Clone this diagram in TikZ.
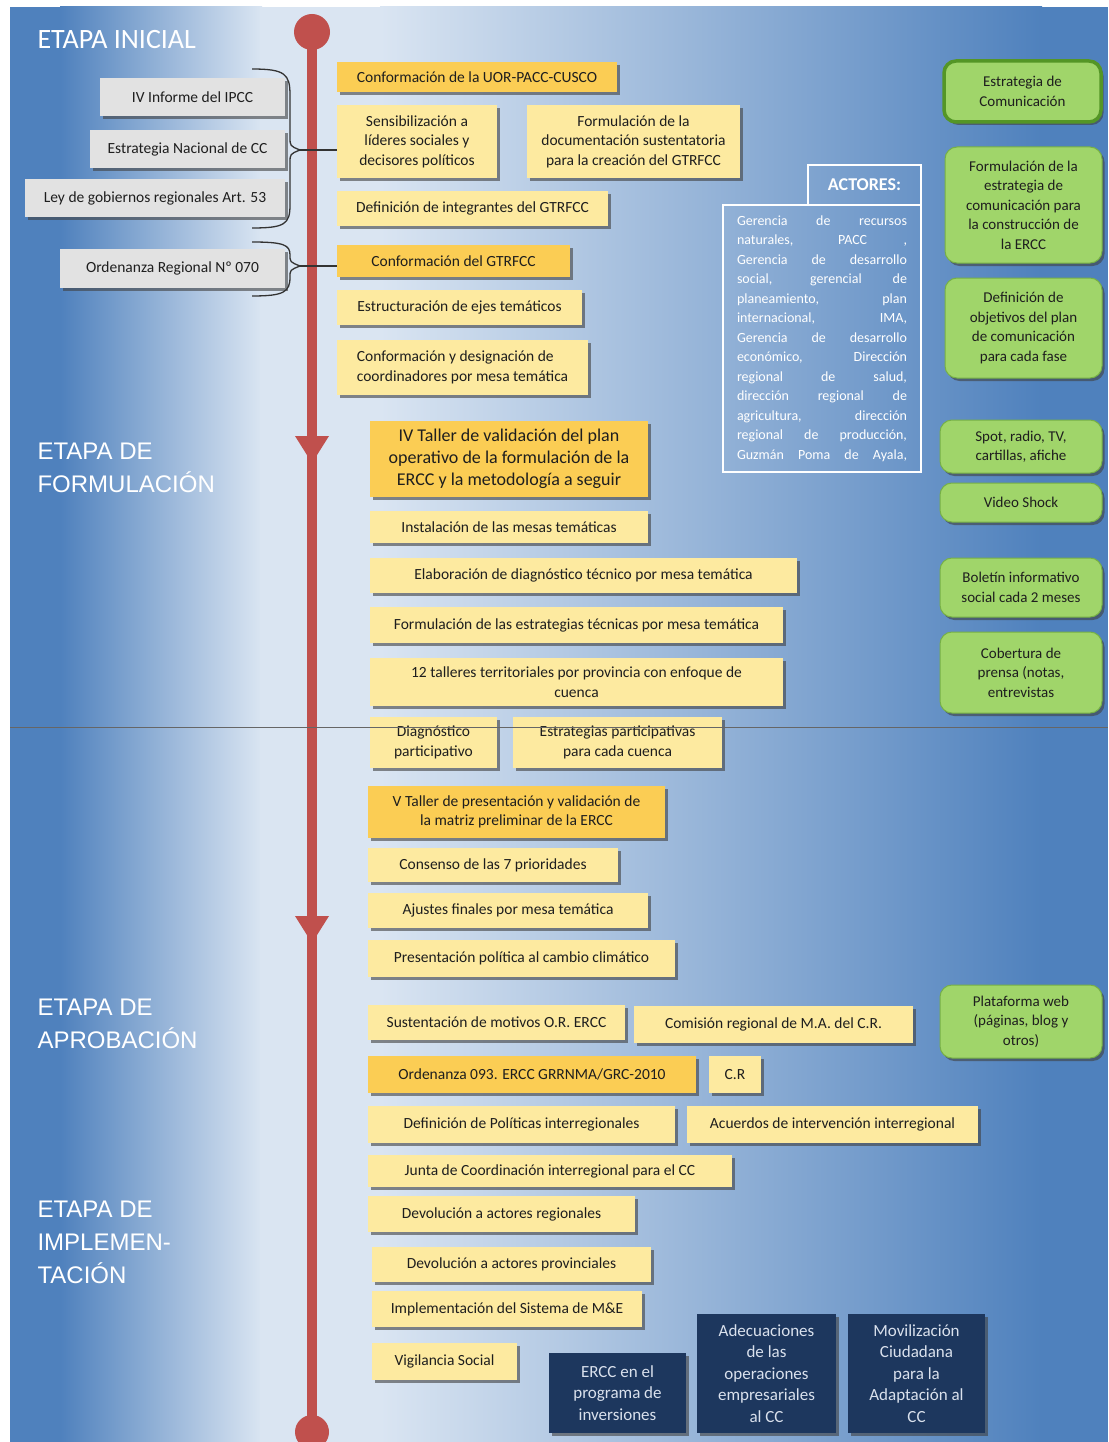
\documentclass[tikz,border=0pt]{standalone}
\usepackage{fontspec}
\setmainfont{Carlito}
\newfontfamily\arialfam{Liberation Sans}
\usetikzlibrary{shadows}

\definecolor{bgblue}{RGB}{79,129,189}
\definecolor{bglight}{RGB}{218,229,242}
\definecolor{tlred}{RGB}{192,80,77}
\definecolor{ylight}{RGB}{253,234,160}
\definecolor{ydark}{RGB}{251,205,84}
\definecolor{boxgrey}{RGB}{226,226,226}
\definecolor{grfill}{RGB}{160,213,106}
\definecolor{grline}{RGB}{118,176,70}
\definecolor{grdark}{RGB}{84,150,38}
\definecolor{navy}{RGB}{29,55,94}
\definecolor{navytxt}{RGB}{218,225,237}
\definecolor{txt}{RGB}{30,30,30}

\newcommand{\boxfont}{\fontsize{15.5}{19.5}\selectfont}
\newcommand{\tallerfont}{\fontsize{18}{22}\selectfont}
\newcommand{\greenfont}{\fontsize{15}{19.5}\selectfont}
\newcommand{\navyfont}{\fontsize{17}{21.5}\selectfont}
\newcommand{\actfont}{\fontsize{14}{19.5}\selectfont}
\newcommand{\stagefont}{\arialfam\fontsize{24}{33}\selectfont}
\newcommand{\inicialfont}{\fontsize{28}{33}\selectfont}
\newcommand{\actline}[1]{\makebox[170pt][s]{#1}}

\begin{document}
\begin{tikzpicture}[x=1pt,y=-1pt,
    tbox/.style={inner sep=2pt,align=center,text=txt,font=\boxfont,
      drop shadow={shadow xshift=2.5pt,shadow yshift=-3pt,opacity=.6,fill=black!75}},
    ybox/.style={tbox,fill=ylight},
    yhbox/.style={tbox,fill=ydark},
    greybox/.style={tbox,fill=boxgrey},
    greenbox/.style={tbox,fill=grfill,draw=grline,line width=1pt,rounded corners=12pt,font=\greenfont},
    navybox/.style={tbox,fill=navy,text=navytxt,font=\navyfont},
    stage/.style={anchor=west,align=left,text=white,font=\stagefont},
    brace/.style={draw=black!80,line width=1.3pt},
    timeline/.style={tlred,line width=10pt}]
    \useasboundingbox (0,0) rectangle (1108,1442);

    \fill[white] (0,0) rectangle (1108,1442);
    \fill[bgblue] (10,7) rectangle (62,1442);
    \shade[left color=bgblue,right color=bglight] (60,7) rectangle (262,1442);
    \fill[bglight] (260,7) rectangle (382,1442);
    \shade[left color=bglight,right color=bgblue] (380,7) rectangle (1042,1442);
    \fill[bgblue] (1040,7) rectangle (1108,1442);

    \coordinate (tltop) at (312,32);
    \coordinate (tlbot) at (312,1432);
    \coordinate (arr1) at (312,463);
    \coordinate (arr2) at (312,943);
    \draw[timeline] (tltop) -- (tlbot);
    \fill[tlred] (tltop) circle (18);
    \fill[tlred] (tlbot) circle (17);
    \fill[tlred] (arr1) -- ++(-17,-27) -- ++(34,0) -- cycle;
    \fill[tlred] (arr2) -- ++(-17,-27) -- ++(34,0) -- cycle;

    \node[stage,font=\inicialfont] (inicial) at (34,40) {ETAPA INICIAL};
    \node[stage] (formul) at (34,468) {ETAPA DE\\FORMULACIÓN};
    \node[stage] (aprob) at (34,1024) {ETAPA DE\\APROBACIÓN};
    \node[stage] (implem) at (34,1242) {ETAPA DE\\IMPLEMEN-\\TACIÓN};

    \node[greybox,minimum width=185,minimum height=38] (ipcc) at (192.5,97) {IV Informe del IPCC};
    \node[greybox,minimum width=195,minimum height=38] (encc) at (187.5,149) {Estrategia Nacional de CC};
    \node[greybox,minimum width=260,minimum height=38] (ley) at (155,198) {Ley de gobiernos regionales Art. 53};
    \node[greybox,minimum width=225,minimum height=39] (ord070) at (172.5,268.5) {Ordenanza Regional Nº 070};

    \node[yhbox,minimum width=280,minimum height=30] (uor) at (477,77) {Conformación de la UOR-PACC-CUSCO};
    \node[ybox,minimum width=160,minimum height=73] (sens) at (417,141.5) {Sensibilización a\\líderes sociales y\\decisores políticos};
    \node[ybox,minimum width=213,minimum height=73] (docu) at (633.5,141.5) {Formulación de la\\documentación sustentatoria\\para la creación del GTRFCC};
    \node[ybox,minimum width=271,minimum height=35] (integ) at (472.5,208.5) {Definición de integrantes del GTRFCC};
    \node[yhbox,minimum width=233,minimum height=32] (gtrfcc) at (453.5,261) {Conformación del GTRFCC};
    \node[ybox,minimum width=245,minimum height=35] (ejes) at (459.5,307.5) {Estructuración de ejes temáticos};
    \node[ybox,minimum width=251,minimum height=55,align=left] (coord) at (462.5,367.5) {Conformación y designación de\\coordinadores por mesa temática};

    \node[yhbox,minimum width=278,minimum height=76,font=\tallerfont] (tallerIV) at (509,459) {IV Taller de validación del plan\\operativo de la formulación de la\\ERCC y la metodología a seguir};
    \node[ybox,minimum width=278,minimum height=32] (mesas) at (509,527) {Instalación de las mesas temáticas};
    \node[ybox,minimum width=427,minimum height=35] (diagtec) at (583.5,575.5) {Elaboración de diagnóstico técnico por mesa temática};
    \node[ybox,minimum width=413,minimum height=36] (esttec) at (576.5,625) {Formulación de las estrategias técnicas por mesa temática};
    \node[ybox,minimum width=413,minimum height=48] (talleres) at (576.5,682) {12 talleres territoriales por provincia con enfoque de\\cuenca};
    \node[ybox,minimum width=127,minimum height=51] (diagpart) at (433.5,742.5) {Diagnóstico\\participativo};
    \node[ybox,minimum width=209,minimum height=51] (estpart) at (617.5,742.5) {Estrategias participativas\\para cada cuenca};
    \node[yhbox,minimum width=297,minimum height=52] (tallerV) at (516.5,812) {V Taller de presentación y validación de\\la matriz preliminar de la ERCC};
    \node[ybox,minimum width=250,minimum height=34] (consenso) at (493,865) {Consenso de las 7 prioridades};
    \node[ybox,minimum width=280,minimum height=35] (ajustes) at (508,910.5) {Ajustes finales por mesa temática};
    \node[ybox,minimum width=307,minimum height=37] (presen) at (521.5,958.5) {Presentación política al cambio climático};

    \node[ybox,minimum width=257,minimum height=35] (sustent) at (496.5,1022.5) {Sustentación de motivos O.R. ERCC};
    \node[ybox,minimum width=279,minimum height=37] (comision) at (773.5,1024.5) {Comisión regional de M.A. del C.R.};
    \node[yhbox,minimum width=328,minimum height=37] (ord093) at (532,1074.5) {Ordenanza 093. ERCC GRRNMA/GRC-2010};
    \node[ybox,minimum width=52,minimum height=37] (cr) at (735,1074.5) {C.R};
    \node[ybox,minimum width=307,minimum height=37] (politicas) at (521.5,1124.5) {Definición de Políticas interregionales};
    \node[ybox,minimum width=291,minimum height=37] (acuerdos) at (832.5,1124.5) {Acuerdos de intervención interregional};
    \node[ybox,minimum width=364,minimum height=32] (junta) at (550,1171) {Junta de Coordinación interregional para el CC};
    \node[ybox,minimum width=267,minimum height=36] (devreg) at (501.5,1214) {Devolución a actores regionales};
    \node[ybox,minimum width=279,minimum height=35] (devprov) at (511.5,1264.5) {Devolución a actores provinciales};
    \node[ybox,minimum width=270,minimum height=36] (impl) at (507,1309) {Implementación del Sistema de M\&E};
    \node[ybox,minimum width=145,minimum height=37] (vigil) at (444.5,1361.5) {Vigilancia Social};

    \node[navybox,minimum width=137,minimum height=80] (erccinv) at (617.5,1393) {ERCC en el\\programa de\\inversiones};
    \node[navybox,minimum width=139,minimum height=119] (adecua) at (766.5,1373.5) {Adecuaciones\\de las\\operaciones\\empresariales\\al CC};
    \node[navybox,minimum width=137,minimum height=119] (movil) at (916.5,1373.5) {Movilización\\Ciudadana\\para la\\Adaptación al\\CC};

    \node[greenbox,draw=grdark,line width=3.5pt,minimum width=157,minimum height=61] (estcom) at (1022.5,91.5) {Estrategia de\\Comunicación};
    \node[greenbox,minimum width=157,minimum height=116] (formest) at (1023.5,205) {Formulación de la\\estrategia de\\comunicación para\\la construcción de\\la ERCC};
    \node[greenbox,minimum width=157,minimum height=100] (objet) at (1023.5,328) {Definición de\\objetivos del plan\\de comunicación\\para cada fase};
    \node[greenbox,minimum width=162,minimum height=53] (spot) at (1021,446.5) {Spot, radio, TV,\\cartillas, afiche};
    \node[greenbox,minimum width=162,minimum height=39] (video) at (1021,502.5) {Video Shock};
    \node[greenbox,minimum width=162,minimum height=59] (boletin) at (1021,587.5) {Boletín informativo\\social cada 2 meses};
    \node[greenbox,minimum width=162,minimum height=81] (cobert) at (1021,672.5) {Cobertura de\\prensa (notas,\\entrevistas};
    \node[greenbox,minimum width=162,minimum height=73] (plataf) at (1021,1021.5) {Plataforma web\\(páginas, blog y\\otros)};

    \node[draw=white,line width=1.2pt,minimum width=198,minimum height=267,
      text=white,font=\actfont,align=left,inner sep=0pt] (actores) at (822,338.5) {%
      \actline{Gerencia de recursos}\\
      \actline{naturales, PACC ,}\\
      \actline{Gerencia de desarrollo}\\
      \actline{social, gerencial de}\\
      \actline{planeamiento, plan}\\
      \actline{internacional, IMA,}\\
      \actline{Gerencia de desarrollo}\\
      \actline{económico, Dirección}\\
      \actline{regional de salud,}\\
      \actline{dirección regional de}\\
      \actline{agricultura, dirección}\\
      \actline{regional de producción,}\\
      \actline{Guzmán Poma de Ayala,}};
    \node[draw=white,line width=1.2pt,minimum width=113,minimum height=40,text=white,
      font=\fontsize{18}{22}\selectfont\bfseries] (acthead) at (864.5,185) {ACTORES:};

    \coordinate (brtip1) at (300,150);
    \coordinate (brtip2) at (300,266);
    \draw[brace] (252,69) .. controls (285,69) and (290,74) .. (290,95) -- (290,137)
      .. controls (290,146) .. (brtip1) .. controls (290,154) .. (290,163) -- (290,205)
      .. controls (290,224) and (285,228) .. (252,228);
    \draw[brace] (252,242) .. controls (284,242) and (290,245) .. (290,255)
      .. controls (290,262) .. (brtip2) .. controls (290,270) .. (290,277)
      .. controls (290,292) and (284,296) .. (252,296);
    \draw[brace] (brtip1) -- (brtip1 -| sens.west);
    \draw[brace] (brtip2) -- (brtip2 -| gtrfcc.west);

    \draw[black!60,line width=0.8pt] (10,727) -- (1108,727);
\end{tikzpicture}
\end{document}
